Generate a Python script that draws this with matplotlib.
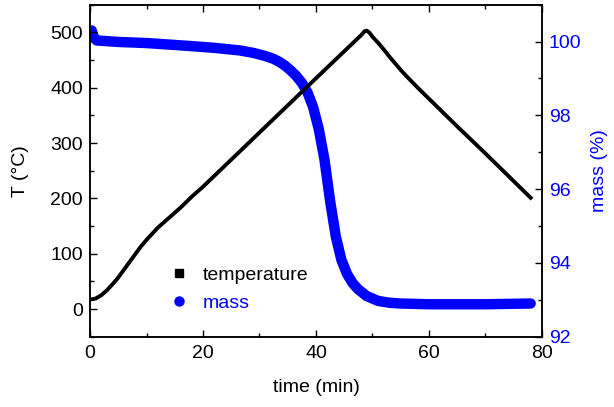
import matplotlib
matplotlib.use("Agg")
import matplotlib.pyplot as plt
from matplotlib.lines import Line2D
from matplotlib.ticker import MultipleLocator

plt.rcParams['font.family'] = ['Liberation Sans', 'DejaVu Sans']

time_T = [0, 1, 2, 3, 4, 5, 6, 7, 8, 9, 10, 11, 12, 13, 14, 15, 16, 17, 18, 20,
          30, 40, 48, 48.6, 49, 49.5, 50, 51, 52, 53, 54, 55, 56, 58, 60, 65, 70, 75, 78]
temperature = [17, 19, 25, 34, 45, 57, 71, 85, 99, 113, 125, 136, 147, 156, 165, 174, 183, 193, 203, 221,
               319, 417, 495, 502, 503, 499, 492, 481, 469, 456, 444, 432, 421, 400, 380, 330, 281, 231, 201]

time_m = [0, 0.3, 0.7, 1.2, 5, 10, 17.7, 22, 26.5, 29, 31, 32.5, 33.5, 34.5, 35.5, 36.5, 37.5,
          38.5, 39.5, 40.5, 41.5, 42.5, 43.5, 44.5, 45.5, 46.5, 47.5, 49, 51, 53, 55, 60, 70, 78]
mass = [100.2, 100.3, 100.1, 100.03, 99.99, 99.96, 99.88, 99.83, 99.76, 99.69, 99.61, 99.53,
        99.45, 99.35, 99.22, 99.07, 98.88, 98.62, 98.22, 97.62, 96.8, 95.68, 94.72, 94.08,
        93.7, 93.45, 93.28, 93.1, 92.97, 92.92, 92.9, 92.88, 92.88, 92.9]

blue = '#0000ff'
fs = 14

fig = plt.figure(figsize=(6.14, 4.07), dpi=100)
ax = fig.add_axes([0.1466, 0.1727, 0.8827 - 0.1466, 0.9885 - 0.1727])
ax2 = ax.twinx()

ax.plot(time_T, temperature, color='black', lw=2.8, solid_joinstyle='round', zorder=3)
ax2.plot(time_m, mass, color=blue, lw=7.5, solid_capstyle='round', solid_joinstyle='round')
ax.set_zorder(ax2.get_zorder() + 1)
ax.patch.set_visible(False)

ax.set_xlim(0, 80)
ax.set_ylim(-50, 550)
ax2.set_ylim(92, 101)

ax.xaxis.set_major_locator(MultipleLocator(20))
ax.xaxis.set_minor_locator(MultipleLocator(10))
ax.yaxis.set_major_locator(MultipleLocator(100))
ax.yaxis.set_minor_locator(MultipleLocator(50))
ax2.yaxis.set_major_locator(MultipleLocator(2))
ax2.yaxis.set_minor_locator(MultipleLocator(1))

ax.tick_params(axis='x', which='both', direction='in', top=True, labelsize=fs, pad=6)
ax.tick_params(axis='y', which='both', direction='in', right=False, labelsize=fs, pad=5)
ax.tick_params(which='major', length=5, width=1)
ax.tick_params(which='minor', length=3, width=1)
ax2.tick_params(axis='y', which='both', direction='in', labelsize=fs, labelcolor=blue, pad=5)
ax2.tick_params(which='major', length=5, width=1)
ax2.tick_params(which='minor', length=3, width=1)

for a in (ax, ax2):
    for s in a.spines.values():
        s.set_linewidth(1.1)

ax.set_xlabel('time (min)', fontsize=fs, labelpad=12)
ax.set_ylabel('T (°C)', fontsize=fs, labelpad=15)
ax2.set_ylabel('mass (%)', fontsize=fs, color=blue, labelpad=7)

handles = [Line2D([], [], color='black', marker='s', ls='none', markersize=5.5),
           Line2D([], [], color=blue, marker='o', ls='none', markersize=6.5)]
leg = ax.legend(handles, ['temperature', 'mass'], loc='upper left',
                bbox_to_anchor=(0.1755, 0.213), borderaxespad=0, borderpad=0,
                frameon=False, fontsize=fs,
                handletextpad=0.74, labelspacing=0.55, handlelength=1.0)
leg.get_texts()[1].set_color(blue)

fig.savefig('out.png', dpi=100)
